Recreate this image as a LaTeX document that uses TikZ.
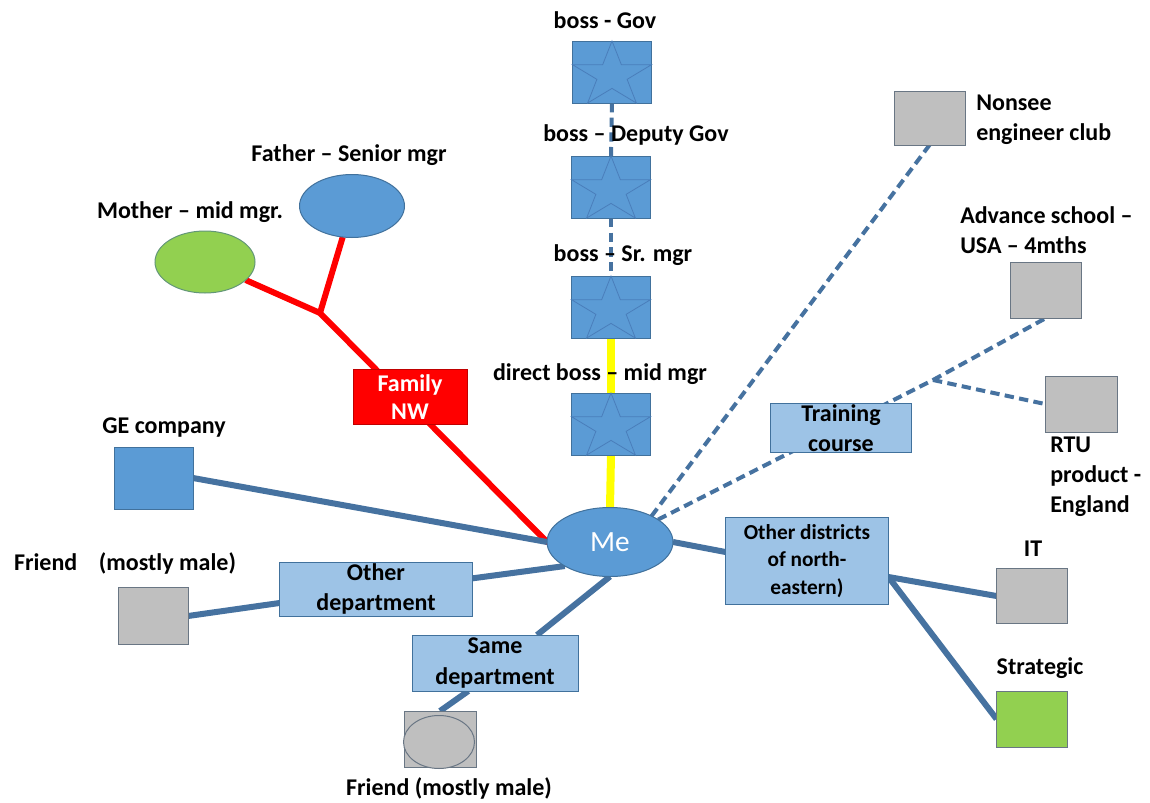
\documentclass[tikz,border=0pt]{standalone}
\usepackage{fontspec}
\setmainfont{Carlito}
\usetikzlibrary{backgrounds,calc,shapes.geometric}

\definecolor{mainblue}{RGB}{91,155,213}
\definecolor{edgeblue}{RGB}{65,113,156}
\definecolor{starblue}{RGB}{74,126,187}
\definecolor{lightblue}{RGB}{157,195,230}
\definecolor{boxgray}{RGB}{191,191,191}
\definecolor{edgegray}{RGB}{105,118,132}
\definecolor{leafgreen}{RGB}{146,208,80}
\definecolor{edgegreen}{RGB}{98,150,120}
\definecolor{linkblue}{RGB}{70,114,160}
\definecolor{famred}{RGB}{255,0,0}
\definecolor{edgered}{RGB}{192,0,0}
\definecolor{bossyellow}{RGB}{255,255,0}

\begin{document}
\begin{tikzpicture}[x=0.75pt,y=-0.75pt,
  lbl/.style={font=\fontsize{18}{22.5}\selectfont\bfseries, text=black, inner sep=0, align=center},
  lbll/.style={lbl, align=left, anchor=west},
  shapebase/.style={line width=0.75pt, inner sep=0, outer sep=0},
  bluebox/.style={shapebase, draw=edgeblue, fill=mainblue},
  lightbox/.style={shapebase, draw=edgeblue, fill=lightblue, font=\fontsize{18}{23}\selectfont\bfseries, align=center},
  graybox/.style={shapebase, draw=edgegray, fill=boxgray},
  greenbox/.style={shapebase, draw=edgegray, fill=leafgreen},
  bossbox/.style={bluebox, minimum width=59.25pt, minimum height=46.5pt},
  leafbox/.style={minimum width=53.25pt, minimum height=42pt},
  starline/.style={draw=starblue, line width=0.6pt},
  link/.style={draw=linkblue, line width=4.5pt},
  dlink/.style={draw=linkblue, line width=3pt, dash pattern=on 7pt off 4pt},
  redlink/.style={draw=famred, line width=4.5pt},
  yellowlink/.style={draw=bossyellow, line width=6pt},
  pics/bossstar/.style={code={
    \draw[starline, shift={(0,3.3)}]
      (-90:41.5 and 34.3) -- (-54:15.9 and 13.1) -- (-18:41.5 and 34.3) --
      (18:15.9 and 13.1) -- (54:41.5 and 34.3) -- (90:15.9 and 13.1) --
      (126:41.5 and 34.3) -- (162:15.9 and 13.1) -- (198:41.5 and 34.3) --
      (234:15.9 and 13.1) -- cycle;
  }}
]
\path[use as bounding box] (0,0) rectangle (1150,803);

% chain of bosses
\node[bossbox] (b1) at (612,72) {};
\node[bossbox] (b2) at (611,187) {};
\node[bossbox] (b3) at (611,307) {};
\node[bossbox] (b4) at (611,424) {};
\pic at (b1.center) {bossstar};
\pic at (b2.center) {bossstar};
\pic at (b3.center) {bossstar};
\pic at (b4.center) {bossstar};

% central node
\node[shapebase, ellipse, draw=edgeblue, fill=mainblue, minimum width=94.5pt, minimum height=51.75pt,
      text=white, font=\fontsize{22}{26}\selectfont] (me) at (610,542) {Me};

% family
\node[shapebase, ellipse, draw=edgegreen, fill=leafgreen, minimum width=75pt, minimum height=46.5pt] (mother) at (205,262) {};
\node[shapebase, ellipse, draw=edgeblue, fill=mainblue, minimum width=78.75pt, minimum height=47.25pt] (father) at (352,206) {};
\coordinate (fj) at (320,313);
\node[shapebase, draw=edgered, fill=famred, minimum width=85.5pt, minimum height=41.25pt,
      text=white, font=\fontsize{18}{21}\selectfont\bfseries, align=center] (family) at (410,397) {Family\\NW};

% left side
\node[bluebox, minimum width=59.25pt, minimum height=46.5pt] (ge) at (153.5,478) {};
\node[graybox, minimum width=52.5pt, minimum height=42.75pt] (fl) at (153,616) {};
\node[lightbox, minimum width=144.75pt, minimum height=40.5pt] (odept) at (376,589) {Other\\department};
\node[lightbox, minimum width=124.5pt, minimum height=42pt] (sdept) at (495,663) {Same\\department};
\node[graybox, minimum width=54pt, minimum height=42pt] (fb) at (440,739) {};
\node[shapebase, ellipse, draw=edgegray, fill=boxgray, minimum width=53.25pt, minimum height=39.75pt] (fbe) at (439,742) {};

% right side
\node[lightbox, minimum width=122.25pt, minimum height=65.25pt,
      font=\fontsize{16}{20.5}\selectfont\bfseries] (odist) at (807,561) {Other districts\\of north-\\eastern)};
\node[graybox, leafbox, minimum height=41.25pt] (it) at (1032,596) {};
\node[greenbox, leafbox] (strat) at (1032,719) {};
\node[lightbox, minimum width=105.75pt, minimum height=36.75pt] (train) at (841,428) {Training\\course};
\node[graybox, leafbox, minimum width=54pt] (rtu) at (1081,404) {};
\node[graybox, leafbox] (adv) at (1046,290) {};
\node[graybox, leafbox, minimum height=40.5pt] (nonsee) at (929.5,118) {};
\coordinate (tj) at (933,380);
\coordinate (ods) at ([yshift=-12pt]odist.east);

% labels
\node[lbl] (lb1) at (605,20) {boss - Gov};
\node[lbl] (lb2) at (636,135) {boss – Deputy Gov};
\node[lbl] (lb3) at (623,255) {boss – Sr. mgr};
\node[lbl] (lb4) at (600,374) {direct boss – mid mgr};
\node[lbl] (lfa) at (349,155) {Father – Senior mgr};
\node[lbl] (lmo) at (190,212) {Mother – mid mgr.};
\node[lbl] (lge) at (164,428) {GE company};
\node[lbl] (lfl) at (125,563) {Friend\hspace{0.9em}(mostly male)};
\node[lbl] (lfb) at (449,788) {Friend (mostly male)};
\node[lbl] (lit) at (1033,549) {IT};
\node[lbl] (lst) at (1040,668) {Strategic};
\node[lbll] (lns) at (976,120) {Nonsee\\engineer club};
\node[lbll] (lad) at (960,230) {Advance school –\\USA – 4mths};
\node[lbll] (lrt) at (1050,477) {RTU\\product -\\England};

% white page and connectors, beneath the shapes
\begin{pgfonlayer}{background}
  \fill[white] (0,0) rectangle (1150,803);
  \draw[dlink] (b1.south) -- (b2.north);
  \draw[dlink] (b2.south) -- (b3.north);
  \draw[yellowlink] (b3.south) -- ([yshift=-6pt]b4.north);
  \draw[yellowlink] (b4.south) -- (me.north);
  \draw[redlink] (mother) -- (fj);
  \draw[redlink] (father) -- (fj);
  \draw[redlink, line cap=round] (fj) -- (me.west);
  \draw[link] (ge.east) -- (me.west);
  \draw[link] ([yshift=8pt]odept.east) -- (me.208);
  \draw[link] (fl.east) -- ([yshift=-10.5pt]odept.west);
  \draw[link] (me.south) -- ([xshift=31.5pt]sdept.north);
  \draw[link] (fb.north) -- ([xshift=-20pt]sdept.south);
  \draw[link] (me.east) -- ([yshift=6.75pt]odist.west);
  \draw[link] (ods) -- (it.west);
  \draw[link] (ods) -- (strat.west);
  \draw[dlink] (me.32) -- (nonsee.south);
  \draw[dlink] (me.25) -- (tj);
  \draw[dlink] (tj) -- (adv.south);
  \draw[dlink] (tj) -- (rtu.west);
\end{pgfonlayer}
\end{tikzpicture}
\end{document}
